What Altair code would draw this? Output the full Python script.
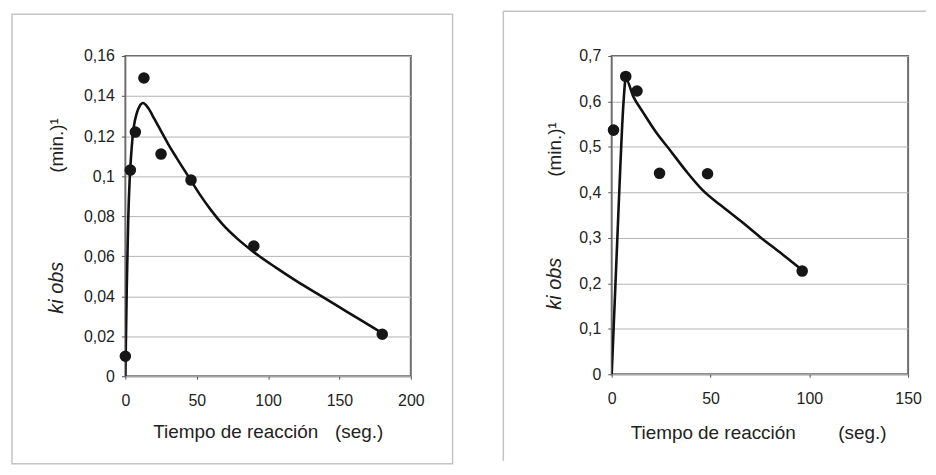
import altair as alt
import pandas as pd

# ---------- data: left panel ----------
left_pts_x = [0, 3.5, 7, 13, 25, 46, 90, 180]
left_pts_y = [0.010, 0.103, 0.122, 0.149, 0.111, 0.098, 0.065, 0.021]
left_fit_x = [0, 1, 2, 3, 4, 5, 6, 8, 10, 12.4, 16, 20, 25, 30, 36, 44, 52, 60, 68, 78, 90,
              105, 120, 135, 150, 165, 180]
left_fit_y = [0, 0.045, 0.078, 0.098, 0.110, 0.119, 0.125, 0.1315, 0.135, 0.1365, 0.134,
              0.129, 0.1225, 0.116, 0.109, 0.100, 0.091, 0.083, 0.076, 0.069, 0.062, 0.0545,
              0.0475, 0.041, 0.0345, 0.028, 0.0216]
left_x_ticks = [0, 50, 100, 150, 200]
left_y_ticks = [0, 0.02, 0.04, 0.06, 0.08, 0.1, 0.12, 0.14, 0.16]

# ---------- data: right panel ----------
right_pts_x = [0.9, 7.1, 12.8, 24.2, 48.5, 96.4]
right_pts_y = [0.537, 0.655, 0.623, 0.442, 0.441, 0.227]
right_fit_x = [0, 1, 2, 3, 4, 5, 6, 7.1, 11, 16, 22, 30, 38, 46, 55, 65, 75, 86, 96.4]
right_fit_y = [0, 0.105, 0.21, 0.315, 0.42, 0.52, 0.60, 0.65, 0.61, 0.575, 0.535, 0.49,
               0.445, 0.405, 0.372, 0.338, 0.302, 0.265, 0.229]
right_x_ticks = [0, 50, 100, 150]
right_y_ticks = [0, 0.1, 0.2, 0.3, 0.4, 0.5, 0.6, 0.7]

x_title = "Tiempo de reacción"
x_unit = "(seg.)"
y_title = "ki obs"
y_unit = "(min.)¹"

FONT = "Liberation Sans"
one = pd.DataFrame({"k": [0]})


def panel(px, py, fx, fy, xdom, ydom, xticks, yticks, w, h, texts, frame):
    pts = pd.DataFrame({"x": px, "y": py})
    fit = pd.DataFrame({"x": fx, "y": fy})
    xenc = alt.X("x:Q", title="", scale=alt.Scale(domain=xdom, nice=False, zero=False),
                 axis=alt.Axis(values=xticks, grid=False, domain=False, tickSize=3,
                               tickColor="#555555", labelPadding=13, labelFontSize=16,
                               labelFont=FONT, labelColor="#222222", labelFlush=False))
    yenc = alt.Y("y:Q", title="", scale=alt.Scale(domain=ydom, nice=False, zero=False),
                 axis=alt.Axis(values=yticks, grid=True, gridColor="#b4b4b4", gridWidth=1,
                               domain=False, tickSize=4, tickColor="#555555", labelPadding=7,
                               labelFontSize=16, labelFont=FONT, labelColor="#222222",
                               labelExpr="replace(toString(datum.value), '.', ',')"))
    layers = list(frame)
    layers.append(alt.Chart(fit).mark_line(color="#111111", strokeWidth=2.6,
                                           interpolate="monotone", clip=True)
                  .encode(x=xenc, y=yenc))
    layers.append(alt.Chart(pts).mark_circle(color="#161616", size=135, opacity=1)
                  .encode(x=xenc, y=yenc))
    for t, tx, ty, ang, style, size in texts:
        kw = dict(text=t, font=FONT, fontSize=size, color="#222222",
                  align="center", baseline="middle", angle=ang)
        if style:
            kw["fontStyle"] = style
        layers.append(alt.Chart(one).mark_text(**kw)
                      .encode(x=alt.value(tx), y=alt.value(ty)))
    return alt.layer(*layers).properties(width=w, height=h)


left_frame = [
    alt.Chart(one).mark_rect(fill="white", fillOpacity=0, stroke="#c4c4c4", strokeWidth=1.5)
    .encode(x=alt.value(-114), x2=alt.value(329), y=alt.value(-42), y2=alt.value(410))
]
right_frame = [
    alt.Chart(one).mark_rule(color="#c4c4c4", strokeWidth=1.5)
    .encode(x=alt.value(-109), x2=alt.value(316), y=alt.value(-45)),
    alt.Chart(one).mark_rule(color="#c4c4c4", strokeWidth=1.5)
    .encode(x=alt.value(-109), y=alt.value(-45), y2=alt.value(407)),
]

left = panel(left_pts_x, left_pts_y, left_fit_x, left_fit_y, [0, 200], [0, 0.16],
             left_x_ticks, left_y_ticks, 287, 322,
             [(y_unit, -69, 90, 270, None, 19),
              (y_title, -69, 233, 270, "italic", 20),
              (x_title, 111, 378, 0, None, 19),
              (x_unit, 235, 378, 0, None, 19)],
             left_frame)

right = panel(right_pts_x, right_pts_y, right_fit_x, right_fit_y, [0, 150], [0, 0.7],
              right_x_ticks, right_y_ticks, 298, 320,
              [(y_unit, -57, 94, 270, None, 19),
               (y_title, -57, 229, 270, "italic", 20),
               (x_title, 102, 379, 0, None, 19),
               (x_unit, 252, 379, 0, None, 19)],
              right_frame)

chart = (alt.hconcat(left, right, spacing=47)
         .properties(padding={"left": 2, "top": 0, "right": 0, "bottom": 0},
                     background="white")
         .configure_view(stroke="#6e6e6e", strokeWidth=2))

chart.save("out.html", embed_options={"renderer": "svg", "actions": False})
